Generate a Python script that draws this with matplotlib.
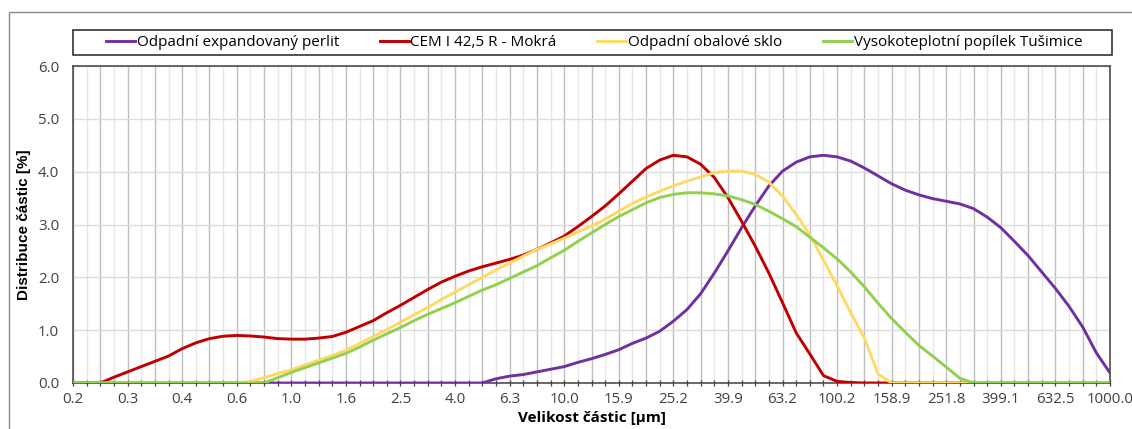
import numpy as np
import matplotlib
matplotlib.use("Agg")
import matplotlib.pyplot as plt
from matplotlib.patches import Rectangle

# =========================
# Data (category axis, 77 size classes, labels every 4th)
# =========================

size_labels = ["0.2", "0.3", "0.4", "0.6", "1.0", "1.6", "2.5", "4.0", "6.3", "10.0",
               "15.9", "25.2", "39.9", "63.2", "100.2", "158.9", "251.8", "399.1",
               "632.5", "1000.0"]

perlit = [0.0] * 31 + [
    0.08, 0.13, 0.16, 0.21, 0.26, 0.31, 0.39, 0.46, 0.54, 0.63,
    0.75, 0.85, 0.98, 1.17, 1.39, 1.69, 2.08, 2.50, 2.94, 3.35,
    3.73, 4.01, 4.18, 4.28, 4.31, 4.28, 4.20, 4.07, 3.92, 3.77,
    3.65, 3.56, 3.49, 3.44, 3.39, 3.30, 3.14, 2.94, 2.68, 2.41,
    2.10, 1.79, 1.45, 1.06, 0.57, 0.19]

cem = [0.0, 0.0, 0.0, 0.11, 0.21, 0.31, 0.41, 0.51, 0.65, 0.76,
       0.84, 0.885, 0.90, 0.89, 0.87, 0.84, 0.83, 0.83, 0.85, 0.88,
       0.96, 1.07, 1.18, 1.33, 1.47, 1.62, 1.77, 1.91, 2.02, 2.12,
       2.20, 2.27, 2.34, 2.42, 2.53, 2.65, 2.78, 2.96, 3.15, 3.35,
       3.58, 3.82, 4.06, 4.22, 4.31, 4.28, 4.14, 3.89, 3.51, 3.06,
       2.59, 2.08, 1.52, 0.95, 0.55, 0.14, 0.03, 0.01] + [0.0] * 19

sklo = [0.0] * 13 + [
    0.03, 0.10, 0.18, 0.25, 0.34, 0.43, 0.52, 0.62, 0.75, 0.88,
    1.01, 1.15, 1.29, 1.43, 1.58, 1.72, 1.86, 2.00, 2.14, 2.27,
    2.40, 2.53, 2.63, 2.74, 2.86, 2.97, 3.10, 3.25, 3.40, 3.52,
    3.63, 3.73, 3.82, 3.90, 3.98, 4.01, 4.01, 3.95, 3.80, 3.54,
    3.19, 2.80, 2.33, 1.84, 1.33, 0.85, 0.17] + [0.0] * 17

popilek = [0.0] * 15 + [
    0.10, 0.20, 0.29, 0.38, 0.47, 0.56, 0.68, 0.81, 0.93, 1.05,
    1.18, 1.30, 1.41, 1.52, 1.64, 1.76, 1.86, 1.98, 2.10, 2.22,
    2.37, 2.51, 2.68, 2.84, 3.00, 3.15, 3.28, 3.41, 3.51, 3.57,
    3.60, 3.60, 3.58, 3.54, 3.47, 3.38, 3.25, 3.11, 2.96, 2.76,
    2.56, 2.35, 2.10, 1.82, 1.51, 1.22, 0.96, 0.71, 0.51, 0.30,
    0.09] + [0.0] * 11

series_names = ["Odpadní expandovaný perlit", "CEM I 42,5 R - Mokrá",
                "Odpadní obalové sklo", "Vysokoteplotní popílek Tušimice"]
series_colors = ["#7030A0", "#C00000", "#FFD966", "#92D050"]

# =========================
# Figure
# =========================

plt.rcParams["font.family"] = ["Open Sans", "DejaVu Sans"]

W, H = 1132, 429
fig = plt.figure(figsize=(W / 100, H / 100), dpi=100)
ax = fig.add_axes([73 / W, 1 - 383 / H, (1110 - 73) / W, (383 - 66) / H])

x = np.arange(len(perlit))
for data, name, col in zip([perlit, cem, sklo, popilek], series_names, series_colors):
    ax.plot(x, data, color=col, lw=2.1, label=name, solid_joinstyle="round", zorder=3)

ax.set_xlim(0, len(perlit) - 1)
ax.set_ylim(0, 6)

ax.set_xticks(np.arange(0, len(perlit), 2))
ax.set_xticks(np.arange(1, len(perlit), 2), minor=True)
major_labels = []
for t in np.arange(0, len(perlit), 2):
    major_labels.append(size_labels[t // 4] if t % 4 == 0 else "")
ax.set_xticklabels(major_labels)
ax.set_yticks(np.arange(0, 6.1, 1.0))
ax.set_yticklabels([f"{v:.1f}" for v in np.arange(0, 6.1, 1.0)])

ax.grid(True, axis="x", which="major", color="#bfbfbf", lw=1.0, zorder=0)
ax.grid(True, axis="x", which="minor", color="#e6e6e6", lw=1.0, zorder=0)
ax.grid(True, axis="y", which="major", color="#dcdcdc", lw=1.0, zorder=0)
ax.set_axisbelow(True)

ax.tick_params(axis="x", which="both", direction="inout", length=5, width=0.9,
               color="#404040", labelsize=10.8, labelcolor="#404040", pad=4)
ax.tick_params(axis="y", length=0, labelsize=10.8, labelcolor="#404040", pad=10)

for s in ax.spines.values():
    s.set_color("#404040")
    s.set_linewidth(1.1)

ax.set_xlabel("Velikost částic [µm]", fontsize=11, fontweight="bold", labelpad=3)
ax.set_ylabel("Distribuce částic [%]", fontsize=11, fontweight="bold", labelpad=5,
              family=["Liberation Sans", "DejaVu Sans"])

# legend box drawn separately, entries centred inside
fig.add_artist(Rectangle((73 / W, 1 - 55 / H), (1112 - 73) / W, 25 / H,
                         transform=fig.transFigure, fill=False,
                         edgecolor="#222222", lw=1.1))
fig.legend(loc="center", bbox_to_anchor=(594 / W, 1 - 42.5 / H), ncol=4,
           frameon=False, fontsize=11, handlelength=1.9, handletextpad=0.12,
           columnspacing=2.65, borderaxespad=0)

# outer chart border (cropped at right and bottom)
fig.add_artist(Rectangle((9 / W, -0.1), 1.2, (H - 12) / H + 0.1,
                         transform=fig.transFigure, fill=False,
                         edgecolor="#8c8c8c", lw=1.0))

fig.savefig("out.png", dpi=100)
